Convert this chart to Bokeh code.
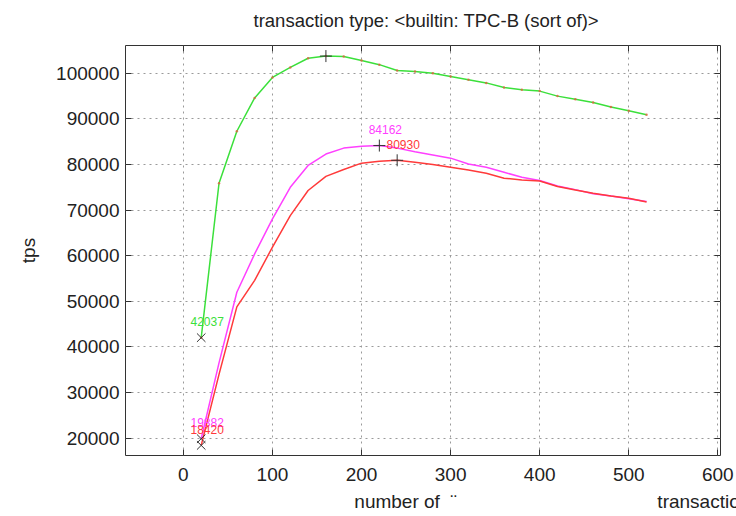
from bokeh.plotting import figure
from bokeh.models import Range1d, LinearAxis, SingleIntervalTicker, BasicTickFormatter
from bokeh.embed import file_html
from bokeh.resources import INLINE
from bokeh.core.properties import value

clients = [20, 40, 60, 80, 100, 120, 140, 160, 180, 200, 220, 240, 260,
           280, 300, 320, 340, 360, 380, 400, 420, 440, 460, 480, 500, 520]
tps_green = [42037, 75900, 87300, 94600, 99100, 101300, 103300, 103781, 103700,
             102800, 101900, 100600, 100400, 100000, 99300, 98600, 97900, 96900,
             96400, 96100, 95000, 94300, 93600, 92600, 91800, 90900]
tps_magenta = [19882, 36500, 52000, 60400, 68100, 75000, 79800, 82300, 83600,
               84000, 84162, 83600, 82800, 82100, 81400, 80100, 79400, 78300,
               77200, 76500, 75300, 74500, 73600, 73100, 72500, 71900]
tps_red = [18420, 34000, 48800, 54600, 61900, 68800, 74300, 77400, 78900,
           80300, 80700, 80930, 80500, 80000, 79400, 78800, 78100, 77000,
           76600, 76400, 75200, 74400, 73700, 73100, 72600, 71800]
series = [tps_green, tps_magenta, tps_red]
colors = ["#3be03b", "#ff40ff", "#ff3a3a"]

title_text = "transaction type: <builtin: TPC-B (sort of)>"
y_label = "tps"
x_label_parts = ["number of", "\u00a8", "transaction"]

FONT = "Liberation Sans"
NBSP = "\u00a0"

p = figure(width=736, height=516, output_backend="svg", toolbar_location=None,
           x_range=Range1d(-65, 603), y_range=Range1d(16200, 106100),
           min_border_left=125, min_border_right=16, min_border_top=45,
           min_border_bottom=61, background_fill_color="white",
           border_fill_color="white")
p.outline_line_color = "#333333"
p.outline_line_width = 1

p.title.text = title_text
p.title.align = "left"
p.title.offset = 128
p.title.vertical_align = "top"
p.title.standoff = 17
p.title.text_font = FONT
p.title.text_font_size = "18.5px"
p.title.text_font_style = "normal"
p.title.text_color = "#222222"

xt = SingleIntervalTicker(interval=100)
yt = SingleIntervalTicker(interval=10000)
p.xaxis[0].ticker = xt
p.yaxis[0].ticker = yt
p.yaxis[0].formatter = BasicTickFormatter(use_scientific=False)
for ax in (p.xaxis[0], p.yaxis[0]):
    ax.major_tick_in = 6
    ax.major_tick_out = 0
    ax.minor_tick_line_color = None
    ax.axis_line_color = None
    ax.major_tick_line_color = "#333333"
    ax.major_label_text_font = FONT
    ax.major_label_text_font_size = "19px"
    ax.major_label_text_color = "#222222"
    ax.axis_label_text_font = FONT
    ax.axis_label_text_font_size = "19px"
    ax.axis_label_text_font_style = "normal"
    ax.axis_label_text_color = "#222222"
p.xaxis[0].major_label_standoff = 8
p.yaxis[0].major_label_standoff = 2
p.yaxis[0].axis_label = y_label
p.yaxis[0].axis_label_standoff = 14

# x caption: pieces spaced with no-break spaces (leading padding centres it
# so that "number of" starts where the reference shows it)
x_caption = (NBSP * 49 + x_label_parts[0] + NBSP * 2 + x_label_parts[1]
             + NBSP * 38 + x_label_parts[2])
p.xaxis[0].axis_label = x_caption
p.xaxis[0].axis_label_standoff = 7

for loc, tk in (("right", yt), ("above", xt)):
    ax = LinearAxis(ticker=tk, major_label_text_font_size="0px",
                    major_tick_in=6, major_tick_out=0, axis_line_color=None,
                    minor_tick_line_color=None, major_label_standoff=0,
                    major_tick_line_color="#333333")
    p.add_layout(ax, loc)

for g in (p.xgrid[0], p.ygrid[0]):
    g.grid_line_color = "#9a9a9a"
    g.grid_line_dash = "2 4"
    g.grid_line_width = 1

for vals, c in zip(series, colors):
    p.line(clients, vals, line_color=c, line_width=1.5)

p.scatter(clients, tps_green, marker="circle", size=2.5, fill_color="#e06040",
          line_color=None, alpha=0.8)

for vals, c in zip(series, colors):
    imin = vals.index(min(vals))
    imax = vals.index(max(vals))
    p.scatter([clients[imin]], [vals[imin]], marker="x", size=12,
              line_color="#333333", line_width=1)
    p.scatter([clients[imax]], [vals[imax]], marker="cross", size=12,
              line_color="#333333", line_width=1)
    p.text([clients[imin], clients[imax]], [vals[imin], vals[imax]],
           text=[str(vals[imin]), str(vals[imax])], text_color=c,
           text_font=value(FONT), text_font_size=value("12px"),
           text_align="center", text_baseline="middle", x_offset=6, y_offset=-16)

open("out.html", "w").write(file_html(p, INLINE))
